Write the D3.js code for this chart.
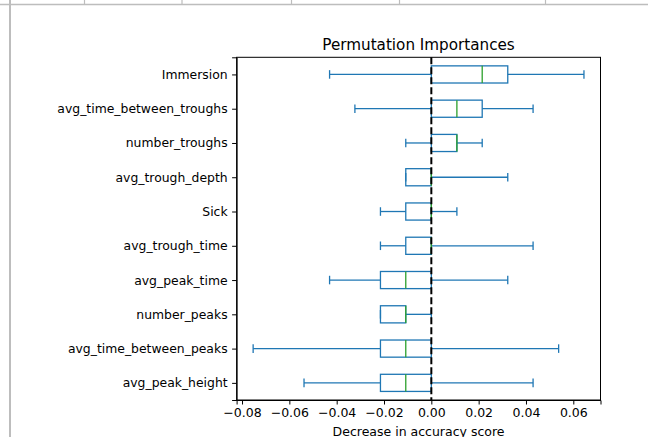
<!DOCTYPE html>
<html>
<head>
<meta charset="utf-8">
<script src="https://cdnjs.cloudflare.com/ajax/libs/d3/7.8.5/d3.min.js"></script>
<style>
  body { margin: 0; background: #fff; }
  svg text { font-family: "DejaVu Sans", sans-serif; fill: #000; }
  .axis path, .axis line { stroke: #000; stroke-width: 1; }
  .box { fill: none; stroke: #1f77b4; stroke-width: 1.3; }
  .median { stroke: #2ca02c; stroke-width: 1.3; }
</style>
</head>
<body>
<svg id="chart" width="648" height="437"></svg>
<script>
// features, top to bottom
var features = ["Immersion", "avg_time_between_troughs", "number_troughs", "avg_trough_depth", "Sick",
  "avg_trough_time", "avg_peak_time", "number_peaks", "avg_time_between_peaks", "avg_peak_height"];
var whiskerLow  = [-0.0430, -0.0323, -0.0108, -0.0108, -0.0215, -0.0215, -0.0430, -0.0215, -0.0753, -0.0538];
var q1          = [ 0.0000,  0.0000,  0.0000, -0.0108, -0.0108, -0.0108, -0.0215, -0.0215, -0.0215, -0.0215];
var median      = [ 0.0215,  0.0108,  0.0108,  0.0000,  0.0000,  0.0000, -0.0108, -0.0108, -0.0108, -0.0108];
var q3          = [ 0.0323,  0.0215,  0.0108,  0.0000,  0.0000,  0.0000,  0.0000, -0.0108,  0.0000,  0.0000];
var whiskerHigh = [ 0.0645,  0.0430,  0.0215,  0.0323,  0.0108,  0.0430,  0.0323,  0.0000,  0.0538,  0.0430];
var xTicks = [-0.08, -0.06, -0.04, -0.02, 0.00, 0.02, 0.04, 0.06];

var svg = d3.select("svg");

// notebook frame lines from the screenshot
var frame = svg.append("g").attr("stroke", "#bdbdbd");
frame.append("line").attr("x1", 0).attr("x2", 648).attr("y1", 4.5).attr("y2", 4.5).attr("stroke-width", 1.5);
frame.append("line").attr("x1", 10).attr("x2", 10).attr("y1", 0).attr("y2", 437).attr("stroke-width", 2);
[84.5, 182, 291.5, 399.5, 545.5].forEach(function(x) {
  frame.append("line").attr("x1", x).attr("x2", x).attr("y1", 0).attr("y2", 4).attr("stroke-width", 1.2);
});

var margin = {top: 57.3, left: 236.6, right: 47.5, bottom: 37},
    width = 648 - margin.left - margin.right,
    height = 437 - margin.top - margin.bottom,
    g = svg.append("g").attr("transform", "translate(" + margin.left + "," + margin.top + ")");

var rows = features.map(function(f, i) {
  return {name: f, lo: whiskerLow[i], q1: q1[i], med: median[i], q3: q3[i], hi: whiskerHigh[i]};
});

var lo = d3.min(whiskerLow), hi = d3.max(whiskerHigh), pad = (hi - lo) * 0.05;
var x = d3.scaleLinear().domain([lo - pad, hi + pad]).range([0, width]);
var y = d3.scalePoint().domain(features).range([0, height]).padding(0.5);
var boxH = y.step() * 0.5, capH = boxH * 0.5;

g.append("g")
    .attr("class", "axis")
    .attr("transform", "translate(0," + height + ")")
    .call(d3.axisBottom(x).tickValues(xTicks).tickFormat(d3.format(".2f")).tickSize(4.5).tickPadding(4))
    .call(function(a) { a.selectAll("text").style("font-size", "12.5px"); });

g.append("g")
    .attr("class", "axis")
    .call(d3.axisLeft(y).tickSize(4.5).tickPadding(4.5))
    .call(function(a) { a.selectAll("text").style("font-size", "12.4px"); });

// frame top/right
g.append("rect").attr("width", width).attr("height", height)
    .attr("fill", "none").attr("stroke", "#000").attr("stroke-width", 1);

var box = g.selectAll(".row").data(rows).enter().append("g")
    .attr("class", "row")
    .attr("transform", function(d) { return "translate(0," + y(d.name) + ")"; });

box.append("line").attr("class", "box")
    .attr("x1", function(d) { return x(d.lo); }).attr("x2", function(d) { return x(d.q1); });
box.append("line").attr("class", "box")
    .attr("x1", function(d) { return x(d.q3); }).attr("x2", function(d) { return x(d.hi); });
box.append("line").attr("class", "box")
    .attr("x1", function(d) { return x(d.lo); }).attr("x2", function(d) { return x(d.lo); })
    .attr("y1", -capH / 2).attr("y2", capH / 2);
box.append("line").attr("class", "box")
    .attr("x1", function(d) { return x(d.hi); }).attr("x2", function(d) { return x(d.hi); })
    .attr("y1", -capH / 2).attr("y2", capH / 2);
box.append("rect").attr("class", "box")
    .attr("x", function(d) { return x(d.q1); })
    .attr("width", function(d) { return x(d.q3) - x(d.q1); })
    .attr("y", -boxH / 2).attr("height", boxH);
box.append("line").attr("class", "median")
    .attr("x1", function(d) { return x(d.med); }).attr("x2", function(d) { return x(d.med); })
    .attr("y1", -boxH / 2).attr("y2", boxH / 2);

// zero line
g.append("line")
    .attr("x1", x(0)).attr("x2", x(0)).attr("y1", 0).attr("y2", height)
    .attr("stroke", "#000").attr("stroke-width", 2).attr("stroke-dasharray", "7,3");

svg.append("text")
    .attr("x", margin.left + width / 2).attr("y", 50)
    .attr("text-anchor", "middle").style("font-size", "15.2px")
    .text("Permutation Importances");

svg.append("text")
    .attr("x", margin.left + width / 2).attr("y", 435.5)
    .attr("text-anchor", "middle").style("font-size", "12.5px")
    .text("Decrease in accuracy score");
</script>
</body>
</html>
